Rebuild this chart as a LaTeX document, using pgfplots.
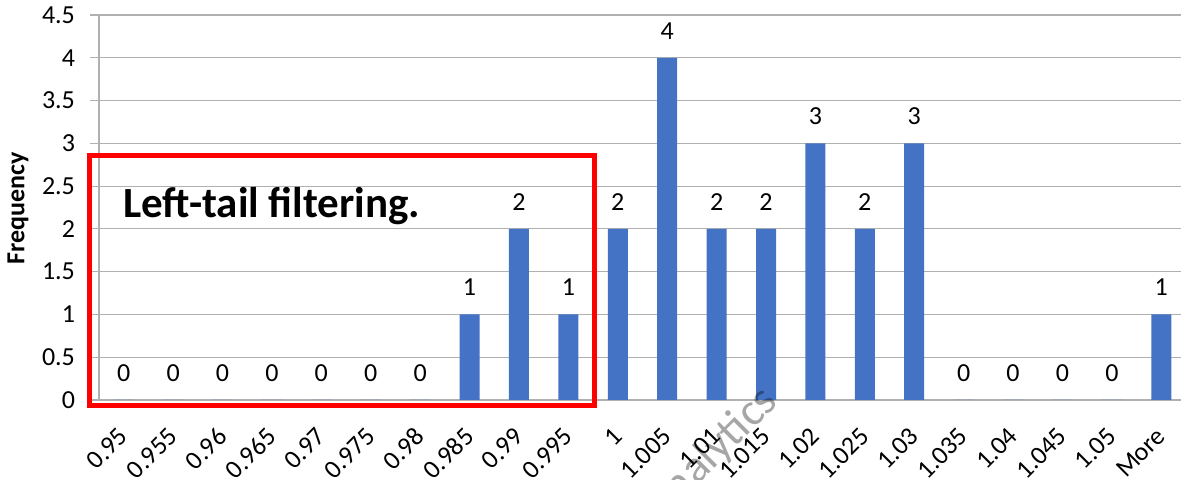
\documentclass[border=0pt]{standalone}
\usepackage{fontspec}
\setmainfont{Carlito}
\usepackage{pgfplots}
\pgfplotsset{compat=1.18}
\definecolor{barblue}{HTML}{4472C4}
\definecolor{gridgray}{HTML}{B0B0B0}

\begin{document}
\begin{tikzpicture}
\useasboundingbox (-49.5pt,-40pt) rectangle (541pt,200pt);
\begin{axis}[
  at={(0,0)}, anchor=south west,
  scale only axis, width=541pt, height=192.5pt,
  xmin=-0.5, xmax=21.4, ymin=0, ymax=4.5,
  clip=false,
  axis x line=bottom, axis y line=left,
  axis line style={-, gridgray, line width=0.6pt},
  ybar, bar width=10pt,
  ytick={0,0.5,...,4.5},
  ymajorgrids, grid style={gridgray, line width=0.6pt},
  tick align=outside,
  major tick length=4.5pt,
  tick style={gridgray, line width=0.6pt},
  xtick={0,...,21},
  xticklabels={0.95,0.955,0.96,0.965,0.97,0.975,0.98,0.985,0.99,0.995,1,1.005,1.01,1.015,1.02,1.025,1.03,1.035,1.04,1.045,1.05,More},
  x tick style={draw=none},
  extra x ticks={-0.5,0.5,...,20.5},
  extra x tick labels={},
  extra x tick style={major tick length=2.5pt, tick style={gridgray, line width=0.6pt}, grid=none},
  /pgf/number format/assume math mode=true,
  ticklabel style={font=\fontsize{13}{15}\selectfont},
  yticklabel style={xshift=-4pt},
  xticklabel style={rotate=45, anchor=east, inner sep=0pt},
  xticklabel shift=11.5pt,
  nodes near coords,
  every node near coord/.append style={font=\fontsize{13}{15}\selectfont, anchor=center, yshift=13.5pt, text=black},
]
\addplot[fill=barblue, draw=none] coordinates {
  (0,0) (1,0) (2,0) (3,0) (4,0) (5,0) (6,0) (7,1) (8,2) (9,1) (10,2)
  (11,4) (12,2) (13,2) (14,3) (15,2) (16,3) (17,0) (18,0) (19,0) (20,0) (21,1)
};
% highlight box around the left tail
\draw[red, line width=2.5pt] (axis cs:-0.70,-0.064) rectangle (axis cs:9.53,2.857);
\node[anchor=west, inner sep=0pt, font=\bfseries\fontsize{21.5}{25}\selectfont] at (axis cs:-0.015,2.27) {Left-tail filtering.};
% faint watermark
\node[anchor=east, rotate=45, text=black, opacity=0.35, font=\fontsize{23}{26}\selectfont] at (axis cs:13.2,0.12) {analytics};
\end{axis}
\node[rotate=90, font=\bfseries\fontsize{13}{15}\selectfont] at (-40.5pt,96pt) {Frequency};
\end{tikzpicture}
\end{document}
